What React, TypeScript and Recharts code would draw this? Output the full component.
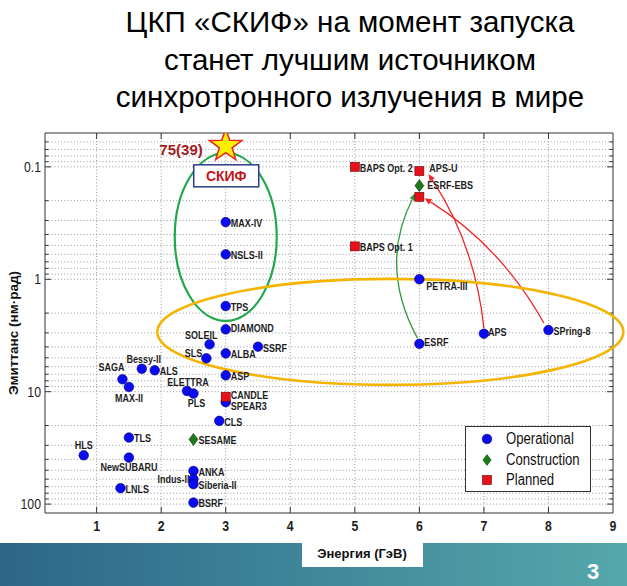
import React from 'react';
import {
  ScatterChart, Scatter, XAxis, YAxis, ReferenceLine, ReferenceDot, ReferenceArea, Legend,
} from 'recharts';

// --- data (energy in GeV, emittance in nm·rad) ---
const operationalNames = [
  'MAX-IV', 'NSLS-II', 'TPS', 'DIAMOND', 'SOLEIL', 'SSRF', 'ALBA', 'SLS', 'Bessy-II', 'ALS',
  'ASP', 'SAGA', 'MAX-II', 'ELETTRA', 'PLS', 'SPEAR3', 'CLS', 'TLS', 'HLS', 'NewSUBARU',
  'ANKA', 'Indus-II', 'Siberia-II', 'LNLS', 'BSRF', 'PETRA-III', 'ESRF', 'APS', 'SPring-8',
];
const operationalEnergy = [
  3, 3, 3, 3, 2.75, 3.5, 3, 2.7, 1.7, 1.9,
  3, 1.4, 1.5, 2.4, 2.5, 3, 2.9, 1.5, 0.8, 1.5,
  2.5, 2.5, 2.5, 1.37, 2.5, 6, 6, 7, 8,
];
const operationalEmittance = [
  0.31, 0.6, 1.73, 2.79, 3.79, 3.98, 4.56, 5.05, 6.25, 6.45,
  7.15, 7.76, 9.08, 9.86, 10.4, 12.4, 18.2, 25.6, 36.8, 38.6,
  50.7, 60.1, 66.5, 72.2, 97, 1.0, 3.75, 3.05, 2.83,
];

const constructionNames = ['SESAME', 'ESRF-EBS'];
const constructionEnergy = [2.5, 6];
const constructionEmittance = [26.6, 0.147];

const plannedNames = ['BAPS Opt. 2', 'APS-U', '', 'BAPS Opt. 1', 'CANDLE'];
const plannedEnergy = [5, 6, 6, 5, 3];
const plannedEmittance = [0.1, 0.109, 0.185, 0.51, 11.1];

const skifNames = ['СКИФ'];
const skifEnergy = [3];
const skifEmittance = [0.065];

const legendOrder = ['Operational', 'Construction', 'Planned'];

const xTicks = [1, 2, 3, 4, 5, 6, 7, 8, 9];
const yTicks = [0.1, 1, 10, 100];
const xGrid = [1, 2, 3, 4, 5, 6, 7, 8];
const yMinor = [
  0.06, 0.07, 0.08, 0.09,
  0.2, 0.3, 0.4, 0.5, 0.6, 0.7, 0.8, 0.9,
  2, 3, 4, 5, 6, 7, 8, 9,
  20, 30, 40, 50, 60, 70, 80, 90,
];

// upgrade arrows, in data units: [energy, emittance]
const upgradeFrom = [[5.97, 3.34], [7.0, 2.72], [7.93, 2.45]];
const upgradeTo = [[5.94, 0.171], [6.14, 0.116], [6.08, 0.19]];

const toRows = (names: string[], e: number[], em: number[]) =>
  names.map((name, i) => ({ name, energy: e[i], emittance: em[i] }));

const operational = toRows(operationalNames, operationalEnergy, operationalEmittance);
const construction = toRows(constructionNames, constructionEnergy, constructionEmittance);
const planned = toRows(plannedNames, plannedEnergy, plannedEmittance);
const skif = toRows(skifNames, skifEnergy, skifEmittance);

// --- styling ---
const SANS = "'Liberation Sans', Arial, sans-serif";
const SQUEEZE = 0.82; // narrow (Helvetica Narrow-like) look of the figure text

// label offset relative to the marker: dx, dy, anchor
const labelPos: Record<string, [number, number, 'start' | 'middle' | 'end']> = {
  'SOLEIL': [8, -9, 'end'],
  'SLS': [-4, -5, 'end'],
  'Bessy-II': [2, -10, 'middle'],
  'SAGA': [2, -12, 'end'],
  'MAX-II': [0, 11, 'middle'],
  'ELETTRA': [1, -9, 'middle'],
  'PLS': [3, 10, 'middle'],
  'HLS': [0, -10, 'middle'],
  'NewSUBARU': [0, 10, 'middle'],
  'Indus-II': [-4, 0, 'end'],
  'SPEAR3': [5, 4, 'start'],
  'CANDLE': [5, -2, 'start'],
  'APS-U': [10, -3, 'start'],
  'ESRF-EBS': [8, 0, 'start'],
  'PETRA-III': [7, 7, 'start'],
  'APS': [4, -2, 'start'],
  'ESRF': [5, -2, 'start'],
  'DIAMOND': [5, -1, 'start'],
};

const NarrowText = ({ x, y, anchor, size, weight, children, baseline = 'central' }: any) => (
  <g transform={`translate(${x},${y}) scale(${SQUEEZE},1)`}>
    <text x={0} y={0} textAnchor={anchor} dominantBaseline={baseline}
      fontSize={size} fontWeight={weight} fontFamily={SANS} fill="#1e1e1e">
      {children}
    </text>
  </g>
);

const renderLabel = (name: string, cx: number, cy: number) => {
  if (!name) return null;
  const [dx, dy, anchor] = labelPos[name] ?? [5, 1, 'start'];
  return <NarrowText x={cx + dx} y={cy + dy} anchor={anchor} size={11} weight="bold">{name}</NarrowText>;
};

const circleShape = (p: any) => (
  <g>
    <circle cx={p.cx} cy={p.cy} r={4.8} fill="#0b0bf2" stroke="#00006e" strokeWidth={0.6} />
    {renderLabel(p.payload?.name, p.cx, p.cy)}
  </g>
);

const diamondShape = (p: any) => (
  <g>
    <polygon
      points={`${p.cx},${p.cy - 6} ${p.cx + 4.5},${p.cy} ${p.cx},${p.cy + 6} ${p.cx - 4.5},${p.cy}`}
      fill="#1c7a1c" stroke="#0a3a0a" strokeWidth={0.6} />
    {renderLabel(p.payload?.name, p.cx, p.cy)}
  </g>
);

const squareShape = (p: any) => (
  <g>
    <rect x={p.cx - 4.5} y={p.cy - 4.5} width={9} height={9} fill="#e8101a" stroke="#700000" strokeWidth={0.6} />
    {renderLabel(p.payload?.name, p.cx, p.cy)}
  </g>
);

const starShape = (p: any) => {
  const R = 17, r = 6.8;
  const pts = Array.from({ length: 10 }, (_, i) => {
    const a = -Math.PI / 2 + (i * Math.PI) / 5;
    const rad = i % 2 === 0 ? R : r;
    return `${p.cx + rad * Math.cos(a)},${p.cy + rad * Math.sin(a)}`;
  }).join(' ');
  return (
    <g>
      <polygon points={pts} fill="#fff000" stroke="#e52a2a" strokeWidth={1.6} />
      <text x={p.cx - 23} y={p.cy + 4} textAnchor="end" dominantBaseline="central"
        fontSize={15} fontWeight="bold" fontFamily={SANS} fill="#a31c1c">75(39)</text>
      <rect x={p.cx - 32} y={p.cy + 19} width={65} height={22} fill="#fff" stroke="#2b3f86" strokeWidth={1.5} />
      <text x={p.cx + 0.5} y={p.cy + 30.5} textAnchor="middle" dominantBaseline="central"
        fontSize={14} fontWeight="bold" fontFamily={SANS} fill="#c0141c">{p.payload?.name}</text>
    </g>
  );
};

const hLineShape = (major: boolean) => (p: any) => {
  const len = major ? 6 : 3.5;
  return (
    <g>
      <line x1={p.x1} y1={p.y1} x2={p.x2} y2={p.y2} stroke="#9a9a9a" strokeWidth={1} strokeDasharray="1 2.2" />
      <line x1={p.x1} y1={p.y1} x2={p.x1 + len} y2={p.y1} stroke="#333" strokeWidth={1} />
      <line x1={p.x2} y1={p.y2} x2={p.x2 - len} y2={p.y2} stroke="#333" strokeWidth={1} />
    </g>
  );
};

const vLineShape = (p: any) => {
  const s = p.y2 > p.y1 ? 1 : -1;
  return (
    <g>
      <line x1={p.x1} y1={p.y1} x2={p.x2} y2={p.y2} stroke="#9a9a9a" strokeWidth={1} strokeDasharray="1 2.2" />
      <line x1={p.x1} y1={p.y1} x2={p.x1} y2={p.y1 + s * 6} stroke="#333" strokeWidth={1} />
      <line x1={p.x2} y1={p.y2} x2={p.x2} y2={p.y2 - s * 6} stroke="#333" strokeWidth={1} />
    </g>
  );
};

const arrowShape = (bend: number, color: string) => (p: any) => {
  const { x1, y1, x2, y2 } = p;
  const dx = x2 - x1, dy = y2 - y1;
  const len = Math.hypot(dx, dy) || 1;
  const nx = dy / len, ny = -dx / len;
  const qx = (x1 + x2) / 2 + nx * bend;
  const qy = (y1 + y2) / 2 + ny * bend;
  const ux0 = x2 - qx, uy0 = y2 - qy;
  const ul = Math.hypot(ux0, uy0) || 1;
  const ux = ux0 / ul, uy = uy0 / ul;
  const hx = x2 - ux * 7, hy = y2 - uy * 7;
  return (
    <g>
      <path d={`M${x1},${y1} Q${qx},${qy} ${hx},${hy}`} fill="none" stroke={color} strokeWidth={1.3} />
      <polygon
        points={`${x2},${y2} ${hx - uy * 3},${hy + ux * 3} ${hx + uy * 3},${hy - ux * 3}`}
        fill={color} />
    </g>
  );
};

const ellipseShape = (rx: number, ry: number, color: string, w: number) => (p: any) => (
  <ellipse cx={p.cx} cy={p.cy} rx={rx} ry={ry} fill="none" stroke={color} strokeWidth={w} />
);

const XTick = (p: any) => (
  <NarrowText x={p.x} y={p.y} anchor="middle" size={15} weight="bold" baseline="hanging">
    {p.payload.value}
  </NarrowText>
);

const YTick = (p: any) => (
  <NarrowText x={p.x} y={p.y} anchor="end" size={15} weight="normal">
    {String(p.payload.value)}
  </NarrowText>
);

const legendIcon = (name: string) => {
  if (name === 'Operational') return <circle cx={6} cy={6} r={4.8} fill="#0b0bf2" stroke="#00006e" strokeWidth={0.6} />;
  if (name === 'Construction') return <polygon points="6,0 10.5,6 6,12 1.5,6" fill="#1c7a1c" />;
  return <rect x={1.5} y={1.5} width={9} height={9} fill="#e8101a" stroke="#700000" strokeWidth={0.6} />;
};

const renderLegend = (props: any) => {
  const items = (props.payload || [])
    .filter((e: any) => legendOrder.includes(e.value))
    .sort((a: any, b: any) => legendOrder.indexOf(a.value) - legendOrder.indexOf(b.value));
  return (
    <div style={{
      width: 126, height: 66, boxSizing: 'border-box', border: '1px solid #333', background: '#fff',
      padding: '2px 0 0 15px',
    }}>
      {items.map((e: any) => (
        <div key={e.value} style={{ display: 'flex', alignItems: 'center', height: 20.5 }}>
          <svg width={12} height={12} style={{ marginRight: 13, flex: 'none' }}>{legendIcon(e.value)}</svg>
          <span style={{
            fontFamily: SANS, fontSize: 16, color: '#111', display: 'inline-block', whiteSpace: 'nowrap',
            transform: `scaleX(${SQUEEZE})`, transformOrigin: 'left center',
          }}>{e.value}</span>
        </div>
      ))}
    </div>
  );
};

export default function App() {
  return (
    <div style={{ position: 'absolute', left: 0, top: 0, width: 627, height: 586, background: '#fff', overflow: 'hidden' }}>
      <ScatterChart width={627} height={586} margin={{ top: 133, right: 14, bottom: 0, left: 0 }}>
        <XAxis
          type="number" dataKey="energy" domain={[0.2, 9]} ticks={xTicks} allowDataOverflow
          height={73} axisLine={false} tickLine={false} tickSize={6} tickMargin={2}
          tick={XTick}
        />
        <YAxis
          type="number" dataKey="emittance" scale="log" domain={[0.05, 120]} ticks={yTicks}
          reversed allowDataOverflow width={45} axisLine={false} tickLine={false} tickSize={2} tickMargin={2}
          tick={YTick}
        />
        {yMinor.map(v => (
          <ReferenceLine key={`m${v}`} y={v} shape={hLineShape(false)} />
        ))}
        {yTicks.map(v => (
          <ReferenceLine key={`M${v}`} y={v} shape={hLineShape(true)} />
        ))}
        {xGrid.map(v => (
          <ReferenceLine key={`x${v}`} x={v} shape={vLineShape} />
        ))}
        <ReferenceArea x1={0.2} x2={9} y1={0.05} y2={120} fill="none" stroke="#333" strokeWidth={1} ifOverflow="visible" />

        <ReferenceDot x={3} y={0.42} r={1} shape={ellipseShape(51, 84, '#22a84a', 2.2)} />
        <ReferenceDot x={5.55} y={2.94} r={1} shape={ellipseShape(233, 53, '#f4b400', 2.6)} />

        <ReferenceLine
          segment={[{ x: upgradeFrom[0][0], y: upgradeFrom[0][1] }, { x: upgradeTo[0][0], y: upgradeTo[0][1] }]}
          shape={arrowShape(38, '#2e9a3a')} ifOverflow="visible" />
        <ReferenceLine
          segment={[{ x: upgradeFrom[1][0], y: upgradeFrom[1][1] }, { x: upgradeTo[1][0], y: upgradeTo[1][1] }]}
          shape={arrowShape(-20, '#f0282a')} ifOverflow="visible" />
        <ReferenceLine
          segment={[{ x: upgradeFrom[2][0], y: upgradeFrom[2][1] }, { x: upgradeTo[2][0], y: upgradeTo[2][1] }]}
          shape={arrowShape(-22, '#f0282a')} ifOverflow="visible" />

        <Scatter name="Operational" data={operational} fill="#0b0bf2" shape={circleShape} isAnimationActive={false} />
        <Scatter name="Construction" data={construction} fill="#1c7a1c" shape={diamondShape} isAnimationActive={false} />
        <Scatter name="Planned" data={planned} fill="#e8101a" shape={squareShape} isAnimationActive={false} />
        <Scatter name="СКИФ" data={skif} fill="#fff000" shape={starShape} legendType="none" isAnimationActive={false} />

        <Legend layout="vertical" align="center" verticalAlign="middle" content={renderLegend}
          wrapperStyle={{ left: 465, top: 426, width: 126, height: 66 }} />
      </ScatterChart>

      {/* title */}
      <div style={{
        position: 'absolute', left: 50, top: 3, width: 600, textAlign: 'center',
        fontFamily: SANS, fontSize: 29.5, lineHeight: '37.5px', color: '#000', pointerEvents: 'none',
      }}>
        ЦКП «СКИФ» на момент запуска<br />станет лучшим источником<br />синхротронного излучения в мире
      </div>

      {/* footer band, axis titles, page number */}
      <svg width={627} height={586} style={{ position: 'absolute', left: 0, top: 0, pointerEvents: 'none' }}>
        <defs>
          <linearGradient id="band" x1="0" y1="0" x2="1" y2="0">
            <stop offset="0%" stopColor="#2c6688" />
            <stop offset="100%" stopColor="#55a8ab" />
          </linearGradient>
        </defs>
        <rect x={0} y={543} width={627} height={43} fill="url(#band)" />
        <rect x={302} y={543} width={121} height={24} fill="#fff" />
        <text x={362} y={553} textAnchor="middle" dominantBaseline="central"
          fontFamily={SANS} fontSize={13} fontWeight="bold" fill="#111">Энергия (ГэВ)</text>
        <text x={593} y={571} textAnchor="middle" dominantBaseline="central"
          fontFamily={SANS} fontSize={22} fontWeight="bold" fill="#fff">3</text>
        <text transform="translate(13,333) rotate(-90)" textAnchor="middle" dominantBaseline="central"
          fontFamily={SANS} fontSize={13.5} fontWeight="bold" fill="#111">Эмиттанс (нм·рад)</text>
      </svg>
    </div>
  );
}
